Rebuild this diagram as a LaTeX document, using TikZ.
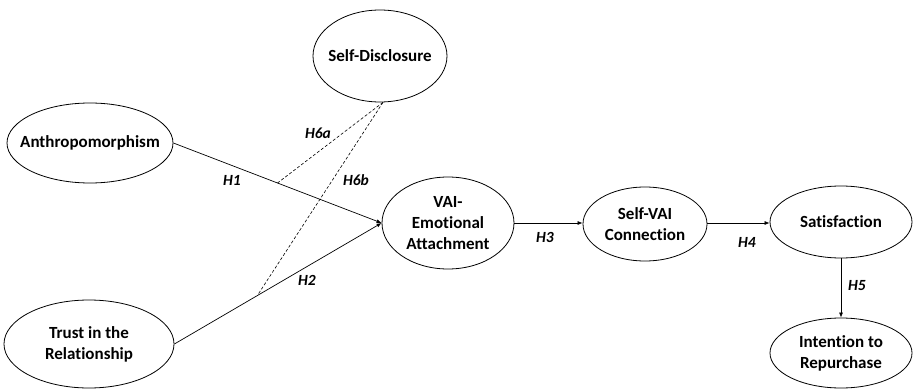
\documentclass[tikz,border=0pt]{standalone}
\usepackage{fontspec}
\setmainfont{Carlito}[Ligatures=NoCommon]
\usetikzlibrary{shapes.geometric,arrows.meta,calc}
\begin{document}
\begin{tikzpicture}[x=1pt,y=1pt,
  ell/.style={draw,ellipse,line width=0.8pt,inner sep=0pt},
  txt/.style={font=\bfseries\fontsize{17}{21}\selectfont,align=center,inner sep=0pt},
  arr/.style={line width=0.7pt,-{Latex[length=5pt,width=4pt]}},
  dsh/.style={line width=0.6pt,dashed,dash pattern=on 3pt off 2pt},
  lab/.style={font=\itshape\bfseries\fontsize{15.5}{18}\selectfont}]
\useasboundingbox (0,0) rectangle (913,389);
\node[ell,minimum width=134pt,minimum height=92pt,label={[txt]center:Self-Disclosure}] (sd) at (380,333) {};
\node[ell,minimum width=166pt,minimum height=80pt,label={[txt]center:Anthropomorphism}] (an) at (90,246) {};
\node[ell,minimum width=170pt,minimum height=88pt,label={[txt]center:{Trust in the\\Relationship}}] (tr) at (89,45) {};
\node[ell,minimum width=132pt,minimum height=92pt,label={[txt]center:{VAI-\\Emotional\\Attachment}}] (va) at (448,166) {};
\node[ell,minimum width=124pt,minimum height=74pt,label={[txt]center:{Self-VAI\\Connection}}] (sv) at (645,165) {};
\node[ell,minimum width=142pt,minimum height=72pt,label={[txt]center:Satisfaction}] (sa) at (841,167) {};
\node[ell,minimum width=142pt,minimum height=70pt,label={[txt]center:{Intention to\\Repurchase}}] (in) at (841,36) {};
\draw[arr] (an.east) -- (va.west) coordinate[pos=0.5] (m1);
\draw[arr] (tr.east) -- (va.west) coordinate[pos=0.4] (m2);
\coordinate (sdb) at ($(sd.south)+(3,0)$);
\draw[dsh] (sdb) -- (m1);
\draw[dsh] (sdb) -- (m2);
\draw[arr] (va.east) -- (va.east -| sv.west);
\draw[arr] (sv.east |- va.east) -- (va.east -| sa.west);
\draw[arr] (sa.south) -- (in.north);
\node[lab] (h6a) at (318,256) {H6a};
\node[lab] (h1) at (232,209) {H1};
\node[lab] (h6b) at (356,209) {H6b};
\node[lab] (h2) at (307,109) {H2};
\node[lab] (h3) at (545,152) {H3};
\node[lab] (h4) at (747,147) {H4};
\node[lab] (h5) at (857,103) {H5};
\end{tikzpicture}
\end{document}
